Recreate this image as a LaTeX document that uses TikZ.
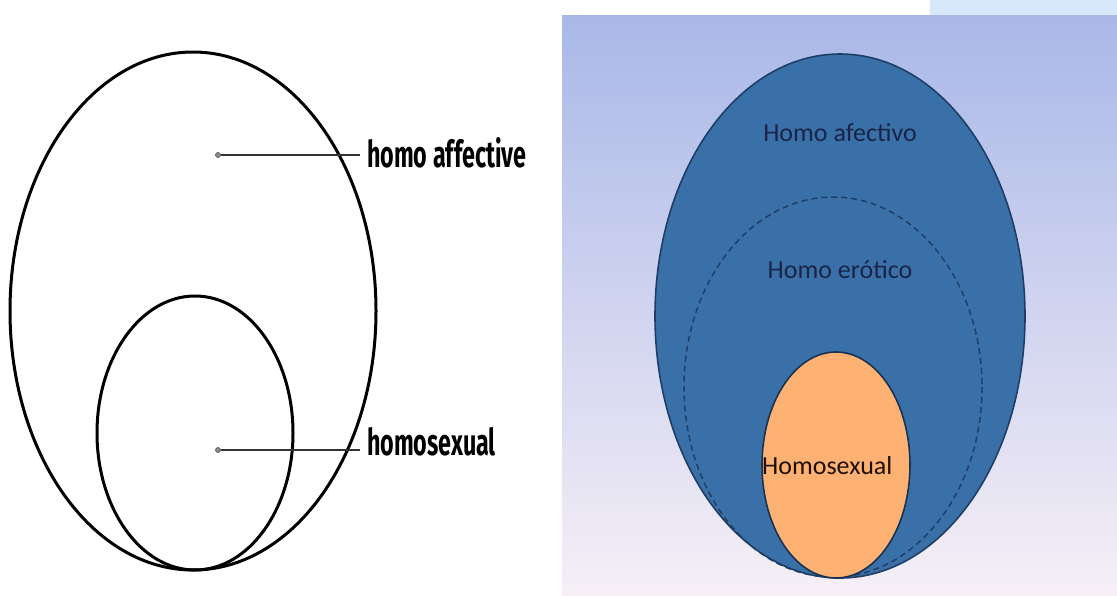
\documentclass[tikz,border=0pt]{standalone}
\usepackage{fontspec}
\setmainfont{Carlito}
\newfontfamily\labelfont{Fira Sans}
\usetikzlibrary{positioning}
\definecolor{bluefill}{HTML}{3A70A8}
\definecolor{blueline}{HTML}{1F3E66}
\definecolor{orangefill}{HTML}{FDB274}
\definecolor{skytop}{HTML}{A9B8E8}
\definecolor{skymid}{HTML}{C3CBEA}
\definecolor{skybottom}{HTML}{F6EFF6}
\definecolor{cornerbox}{HTML}{D6E8FA}
\definecolor{darktext}{HTML}{1A2448}

\begin{document}
\begin{tikzpicture}[
  x=1pt, y=-1pt,
  every node/.style={inner sep=0pt},
  outline/.style={draw, line width=3pt},
  pin/.style={circle, draw=black!70, fill=black!45, minimum size=5pt, line width=0.6pt},
  tag/.style={anchor=west, font=\labelfont\bfseries\fontsize{37}{37}\selectfont, xscale=0.63},
  inner/.style={font=\fontsize{26}{26}\selectfont, text=darktext}
]
\useasboundingbox (0,0) rectangle (1117,595);

% left panel
\draw[outline] (193,311) ellipse [x radius=183, y radius=259];
\draw[outline] (195,433) ellipse [x radius=98, y radius=137];

\node[pin] (affectdot) at (218,155) {};
\node[pin] (sexualdot) at (218,450) {};
\node[tag] (affect) at (367,153) {homo affective};
\node[tag] (sexual) at (367,442) {homosexual};
\coordinate (affectend) at (360,155);
\coordinate (sexualend) at (360,450);
\draw[line width=1.3pt, black!80] (affectdot) -- (affectend);
\draw[line width=1.3pt, black!80] (sexualdot) -- (sexualend);

% right panel
\shade[top color=skytop, middle color=skymid, bottom color=skybottom]
  (562,15) rectangle (1117,595);
\fill[cornerbox] (930,0) rectangle (1117,15);

\filldraw[fill=bluefill, draw=blueline, line width=1.6pt]
  (840,316) ellipse [x radius=185, y radius=262];
\draw[blueline, dash pattern=on 6pt off 4pt, line width=1.5pt]
  (833,387) ellipse [x radius=149, y radius=190];
\filldraw[fill=orangefill, draw=blueline!80!black, line width=1.6pt]
  (836,465) ellipse [x radius=74, y radius=113];

\node[inner] (afectivo) at (840,133) {Homo afectivo};
\node[inner] (erotico) at (840,270) {Homo erótico};
\node[inner, anchor=west, text=black!70!orange!40!black] (homosexual) at (762,466) {Homosexual};

\end{tikzpicture}
\end{document}
